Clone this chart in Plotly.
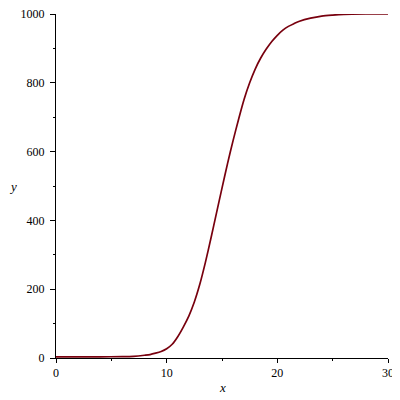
import plotly.graph_objects as go

x_vals = [0, 2, 4, 6, 7, 8, 8.5, 9, 9.5, 10, 10.5, 11, 11.5, 12, 12.5, 13, 13.5, 14,
          14.5, 15, 15.5, 16, 16.5, 17, 17.5, 18, 18.5, 19, 19.5, 20, 20.5, 21, 21.5,
          22, 23, 24, 25, 26, 28, 30]
y_vals = [3, 3, 3.5, 4, 5, 8, 10, 14, 19, 27, 40, 62, 90, 122, 163, 215, 278, 348,
          421, 494, 565, 632, 694, 752, 800, 840, 872, 898, 920, 938, 953, 964, 972,
          979, 988, 994, 997, 999, 1000, 1000]

x_ticks = [0, 10, 20, 30]
y_ticks = [0, 200, 400, 600, 800, 1000]

font = dict(family="Liberation Serif, Times New Roman, serif", size=12, color="black")

fig = go.Figure()
fig.add_trace(go.Scatter(x=x_vals, y=y_vals, mode="lines",
                         line=dict(color="#78000E", width=1.7, shape="spline", smoothing=0.8),
                         hoverinfo="skip", showlegend=False))

fig.update_layout(
    width=392, height=392,
    margin=dict(l=48, r=12, t=6, b=42),
    paper_bgcolor="white", plot_bgcolor="white",
    font=font,
    showlegend=False,
    xaxis=dict(range=[0, 30], tickvals=x_ticks, ticks="outside", ticklen=4,
               tickcolor="black", showline=True, linecolor="black", linewidth=1,
               showgrid=False, zeroline=False, tickfont=font, ticklabeloverflow="allow",
               automargin=False,
               minor=dict(dtick=5, ticks="outside", ticklen=2, tickcolor="black", showgrid=False)),
    yaxis=dict(range=[0, 1000], tickvals=y_ticks, ticks="outside", ticklen=5,
               tickcolor="black", showline=True, linecolor="black", linewidth=1,
               showgrid=False, zeroline=False, tickfont=font, ticklabeloverflow="allow",
               automargin=False, ticklabelstandoff=3,
               minor=dict(dtick=100, ticks="outside", ticklen=2, tickcolor="black", showgrid=False)),
    annotations=[
        dict(text="<i>x</i>", xref="paper", yref="paper", x=0.5, y=-0.086,
             xanchor="center", yanchor="middle", showarrow=False, font=dict(family=font["family"], size=13, color="black")),
        dict(text="<i>y</i>", xref="paper", yref="paper", x=-0.130, y=0.5,
             xanchor="center", yanchor="middle", showarrow=False, font=dict(family=font["family"], size=13, color="black")),
    ],
)

fig.write_html("out.html")
